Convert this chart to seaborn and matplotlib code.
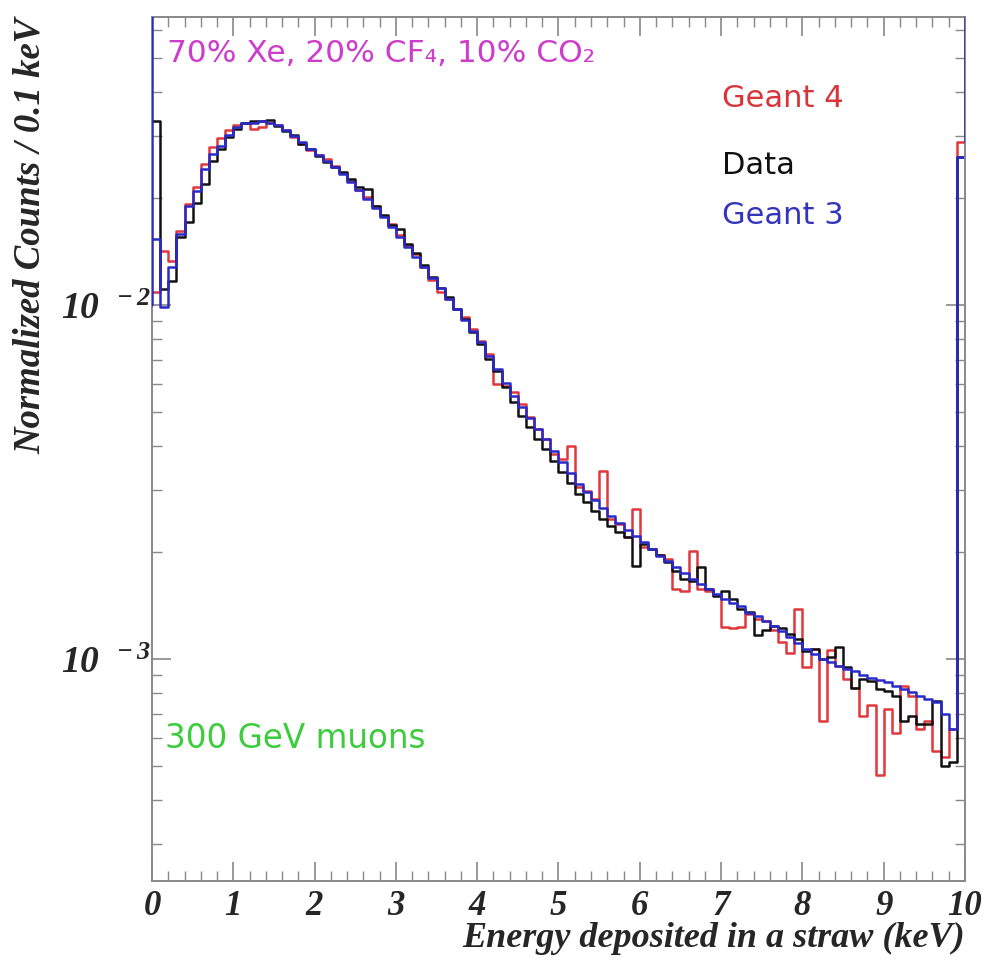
import numpy as np
import pandas as pd
import matplotlib
matplotlib.use("Agg")
import matplotlib.pyplot as plt
import seaborn as sns
from matplotlib.ticker import MultipleLocator, LogLocator, NullFormatter, FuncFormatter

# ---------------- data (normalized counts per 0.1 keV bin, 0..10 keV) ----------------
n_bins = 100
energy_range = (0.0, 10.0)

geant4 = [0.0109, 0.0142, 0.0133, 0.0162, 0.0193, 0.0215, 0.0250, 0.0280, 0.0296, 0.0312,
          0.0322, 0.0326, 0.0314, 0.0318, 0.0326, 0.0322, 0.0312, 0.0298, 0.0285, 0.0274,
          0.0266, 0.0259, 0.0247, 0.0236, 0.0224, 0.0211, 0.0202, 0.0190, 0.0178, 0.0169,
          0.0158, 0.0148, 0.0139, 0.0128, 0.0118, 0.0109, 0.0104, 0.00974, 0.00925, 0.00855,
          0.00791, 0.00727, 0.00598, 0.00590, 0.00568, 0.00525, 0.00482, 0.00446, 0.00418, 0.00380,
          0.00367, 0.00400, 0.00306, 0.00298, 0.00283, 0.00339, 0.00249, 0.00241, 0.00221, 0.00265,
          0.00207, 0.00204, 0.00197, 0.00192, 0.00158, 0.00156, 0.00202, 0.00158, 0.00156, 0.00152,
          0.00123, 0.00122, 0.00123, 0.00134, 0.00130, 0.00128, 0.00121, 0.00112, 0.00104, 0.00138,
          0.000949, 0.00107, 0.000667, 0.00106, 0.000955, 0.000878, 0.000830, 0.000689, 0.000741, 0.000469,
          0.000722, 0.000616, 0.000839, 0.000786, 0.000634, 0.000670, 0.000548, 0.000530, 0.000634, 0.0289]

data = [0.0331, 0.0111, 0.0117, 0.0156, 0.0172, 0.0194, 0.0220, 0.0255, 0.0276, 0.0298,
        0.0314, 0.0327, 0.0331, 0.0331, 0.0333, 0.0320, 0.0310, 0.0302, 0.0285, 0.0276,
        0.0264, 0.0254, 0.0245, 0.0238, 0.0227, 0.0215, 0.0213, 0.0190, 0.0179, 0.0168,
        0.0164, 0.0149, 0.0140, 0.0130, 0.0120, 0.0112, 0.0105, 0.00974, 0.00913, 0.00839,
        0.00776, 0.00704, 0.00650, 0.00587, 0.00532, 0.00486, 0.00452, 0.00418, 0.00392, 0.00362,
        0.00337, 0.00314, 0.00292, 0.00278, 0.00262, 0.00249, 0.00237, 0.00228, 0.00221, 0.00183,
        0.00211, 0.00204, 0.00197, 0.00188, 0.00177, 0.00168, 0.00166, 0.00182, 0.00158, 0.00151,
        0.00156, 0.00148, 0.00138, 0.00136, 0.00117, 0.00121, 0.00124, 0.00122, 0.00118, 0.00114,
        0.00105, 0.00107, 0.00100, 0.00101, 0.00108, 0.000949, 0.000830, 0.000878, 0.000866, 0.000823,
        0.000813, 0.000786, 0.000667, 0.000689, 0.000655, 0.000655, 0.000760, 0.000500, 0.000510, 0.0262]

geant3 = [0.01536, 0.00987, 0.0128, 0.0159, 0.0190, 0.0210, 0.0242, 0.0267, 0.0281, 0.0302,
          0.0318, 0.0327, 0.0327, 0.0331, 0.0326, 0.0322, 0.0312, 0.0300, 0.0289, 0.0276,
          0.0266, 0.0255, 0.0245, 0.0235, 0.0222, 0.0211, 0.0199, 0.0188, 0.0177, 0.0166,
          0.0156, 0.0146, 0.0137, 0.0128, 0.0119, 0.0112, 0.0104, 0.00974, 0.00907, 0.00844,
          0.00786, 0.00718, 0.00659, 0.00602, 0.00552, 0.00515, 0.00479, 0.00446, 0.00418, 0.00387,
          0.00360, 0.00335, 0.00312, 0.00296, 0.00281, 0.00267, 0.00254, 0.00242, 0.00231, 0.00222,
          0.00214, 0.00204, 0.00196, 0.00189, 0.00182, 0.00175, 0.00168, 0.00163, 0.00158, 0.00153,
          0.00148, 0.00144, 0.00141, 0.00135, 0.00132, 0.00128, 0.00124, 0.00120, 0.00115, 0.00111,
          0.00107, 0.00103, 0.00100, 0.000981, 0.000955, 0.000937, 0.000925, 0.000902, 0.000884, 0.000872,
          0.000861, 0.000839, 0.000823, 0.000807, 0.000786, 0.000771, 0.000756, 0.000700, 0.000634, 0.0262]

series_names = ["Geant 4", "Data", "Geant 3"]
series_colors = ["#e0383c", "#111111", "#2a2ac8"]
text_colors = ["#d8343a", "#111111", "#3434bc"]

# ---------------- style ----------------
sns.set_style("white")
plt.rcParams["font.family"] = ["Liberation Serif", "DejaVu Serif"]
plt.rcParams["font.style"] = "italic"
plt.rcParams["font.weight"] = "bold"
plt.rcParams["mathtext.fontset"] = "custom"
plt.rcParams["mathtext.rm"] = "Liberation Serif:italic:bold"
plt.rcParams["mathtext.it"] = "Liberation Serif:italic:bold"
plt.rcParams["mathtext.bf"] = "Liberation Serif:italic:bold"

fig = plt.figure(figsize=(9.87, 9.62), dpi=100)
ax = fig.add_axes([0.154, 0.0832, 0.8237, 0.8981])

width = (energy_range[1] - energy_range[0]) / n_bins
centers = energy_range[0] + width * (np.arange(n_bins) + 0.5)
for name, vals, col in zip(series_names, [geant4, data, geant3], series_colors):
    df = pd.DataFrame({"energy": centers, "counts": np.asarray(vals, dtype=float)})
    sns.histplot(data=df, x="energy", weights="counts", bins=n_bins, binrange=energy_range,
                 element="step", fill=False, color=col, linewidth=1.8, ax=ax)

ax.set_yscale("log")
ax.set_xlim(0, 10)
ax.set_ylim(2.36e-4, 0.0651)

# frame segments drawn in blue (as in the original ROOT canvas)
blue = series_colors[2]
ax.axvline(0, ymin=0.667, ymax=1.0, color=blue, lw=1.8, zorder=5)
ax.axvline(10, ymin=0.855, ymax=1.0, color=blue, lw=1.8, zorder=5)

# ticks
ax.xaxis.set_major_locator(MultipleLocator(1))
ax.xaxis.set_minor_locator(MultipleLocator(0.2))
ax.xaxis.set_major_formatter(FuncFormatter(lambda v, p: "%d" % round(v)))
ax.yaxis.set_major_locator(LogLocator(base=10, numticks=10))
ax.yaxis.set_minor_locator(LogLocator(base=10, subs=np.arange(2, 10), numticks=20))
ax.yaxis.set_minor_formatter(NullFormatter())
ax.yaxis.set_major_formatter(FuncFormatter(lambda v, p: r"$10^{\ \ %d}$" % round(np.log10(v))))

ax.tick_params(which="both", direction="in", top=True, right=True, bottom=True, left=True,
               color="#888888")
ax.tick_params(which="major", length=14, width=1.2)
ax.tick_params(which="minor", length=7, width=1.0)
ax.tick_params(axis="x", labelsize=25, pad=6)
ax.tick_params(axis="y", labelsize=27, pad=1)

for sp in ax.spines.values():
    sp.set_color("#888888")
    sp.set_linewidth(1.4)

ax.set_xlabel("Energy deposited in a straw (keV)", fontsize=26, fontweight="bold",
              fontstyle="italic", loc="right")
ax.set_ylabel("Normalized Counts / 0.1 keV", fontsize=26.5, fontweight="bold",
              fontstyle="italic", loc="top")
ax.xaxis.set_label_coords(1.0, -0.046)
ax.yaxis.set_label_coords(-0.128, 1.0)

# annotations
sans = dict(family="DejaVu Sans", style="normal", weight="normal")
ax.text(0.018, 0.949, "70% Xe, 20% CF\u2084, 10% CO\u2082", transform=ax.transAxes,
        color="#cc3dcc", fontsize=22.5, ha="left", va="baseline", **sans)
ax.text(0.016, 0.155, "300 GeV muons", transform=ax.transAxes,
        color="#3ccc3c", fontsize=23.5, ha="left", va="baseline", **sans)
for name, col, yy in zip(series_names, text_colors, [0.897, 0.819, 0.762]):
    ax.text(0.701, yy, name, transform=ax.transAxes, color=col, fontsize=22,
            ha="left", va="baseline", **sans)

fig.savefig("out.png", dpi=100)
